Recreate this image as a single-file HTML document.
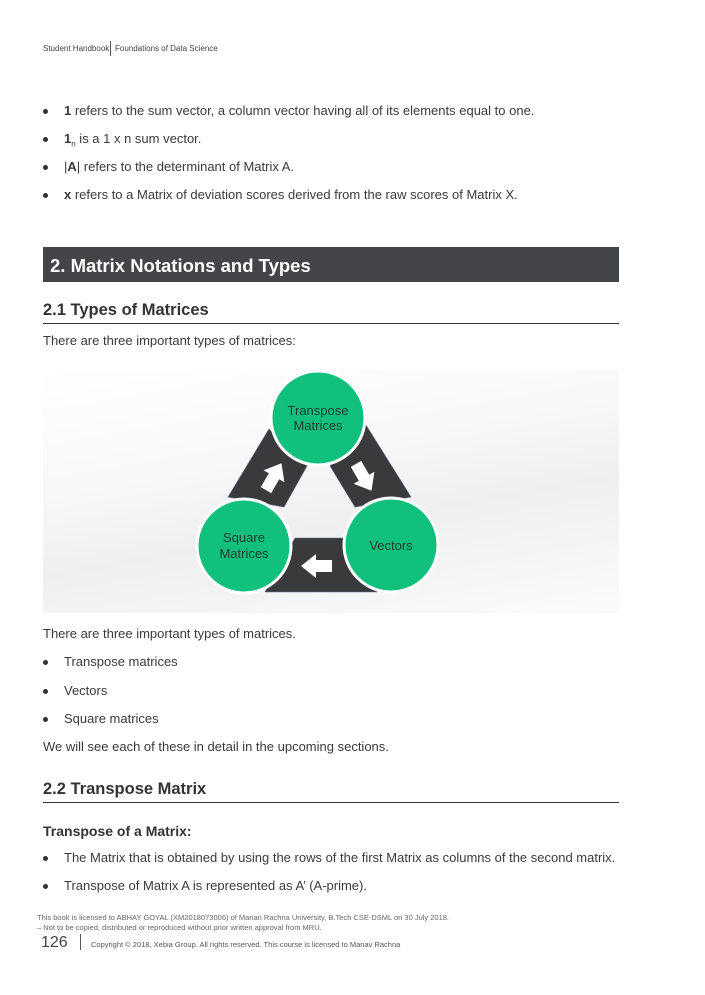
<!DOCTYPE html>
<html><head><meta charset="utf-8"><style>
body{margin:0;width:705px;height:995px;background:#fff;position:relative;font-family:"Liberation Sans",sans-serif;color:#333;overflow:hidden}
.a{position:absolute;white-space:nowrap}
.t{font-size:13px;color:#3a3a3a}
.b{position:absolute;left:43px;font-size:13px;color:#3a3a3a}
.b:before{content:"";position:absolute;left:0;top:6px;width:5px;height:5px;border-radius:50%;background:#333}
.b span{margin-left:21px}
h2{position:absolute;margin:0;font-size:16.5px;font-weight:bold;color:#333;left:43px}
.hr{position:absolute;left:43px;width:576px;height:1px;background:#333}
</style></head><body>
<div class="a" style="left:43px;top:44px;font-size:8px;color:#444">Student Handbook</div>
<div class="a" style="left:110px;top:41px;width:1px;height:15px;background:#555"></div>
<div class="a" style="left:115px;top:44px;font-size:8px;color:#444">Foundations of Data Science</div>

<div class="b" style="top:103px"><span><b>1</b> refers to the sum vector, a column vector having all of its elements equal to one.</span></div>
<div class="b" style="top:131px"><span><b>1</b><sub style="font-size:8px">n</sub> is a 1 x n sum vector.</span></div>
<div class="b" style="top:159px"><span>|<b>A</b>| refers to the determinant of Matrix A.</span></div>
<div class="b" style="top:187px"><span><b>x</b> refers to a Matrix of deviation scores derived from the raw scores of Matrix X.</span></div>

<div class="a" style="left:43px;top:247px;width:576px;height:35px;background:#434549"></div>
<div class="a" style="left:50px;top:255px;font-size:18.5px;font-weight:bold;color:#fff">2. Matrix Notations and Types</div>

<h2 style="top:301px">2.1 Types of Matrices</h2>
<div class="hr" style="top:323px"></div>
<div class="a t" style="left:43px;top:333px">There are three important types of matrices:</div>

<div class="a" style="left:43px;top:370px;width:576px;height:243px;background:linear-gradient(170deg,#fff 0%,#f7f7f7 40%,#efefef 60%,#fbfbfb 100%)"></div>
<svg class="a" style="left:0;top:0" width="705" height="995">
<polygon points="269,429 228,497 284,507 307,466" fill="#3a3a3c" stroke="#5a6a8a" stroke-width="0.6"/>
<polygon points="366,425 411,497 355,507 330,466" fill="#3a3a3c" stroke="#5a6a8a" stroke-width="0.6"/>
<polygon points="295,538 347,538 377,592 265,592" fill="#3a3a3c" stroke="#5a6a8a" stroke-width="0.6"/>
<g fill="#fff">
<polygon transform="translate(273,478) rotate(30)" points="0,-17 -12,-2 -6,-2 -6,14 6,14 6,-2 12,-2"/>
<polygon transform="translate(363,476) rotate(150)" points="0,-17 -12,-2 -6,-2 -6,14 6,14 6,-2 12,-2"/>
<polygon transform="translate(318,566) rotate(-90)" points="0,-17 -12,-2 -6,-2 -6,14 6,14 6,-2 12,-2"/>
</g>
<circle cx="318" cy="418" r="47" fill="#10c07c" stroke="#fff" stroke-width="3"/>
<circle cx="244" cy="546" r="47" fill="#10c07c" stroke="#fff" stroke-width="3"/>
<circle cx="391" cy="545" r="47" fill="#10c07c" stroke="#fff" stroke-width="3"/>
<g font-family="Liberation Sans,sans-serif" font-size="13" fill="#1f3b33" text-anchor="middle">
<text x="318" y="415">Transpose</text><text x="318" y="430">Matrices</text>
<text x="244" y="542">Square</text><text x="244" y="558">Matrices</text>
<text x="391" y="550">Vectors</text></g>
</svg>

<div class="a t" style="left:43px;top:626px">There are three important types of matrices.</div>
<div class="b" style="top:654px"><span>Transpose matrices</span></div>
<div class="b" style="top:683px"><span>Vectors</span></div>
<div class="b" style="top:711px"><span>Square matrices</span></div>
<div class="a t" style="left:43px;top:739px">We will see each of these in detail in the upcoming sections.</div>

<h2 style="top:780px">2.2 Transpose Matrix</h2>
<div class="hr" style="top:802px"></div>
<div class="a" style="left:43px;top:823px;font-size:14px;font-weight:bold;color:#333">Transpose of a Matrix:</div>
<div class="b" style="top:850px"><span>The Matrix that is obtained by using the rows of the first Matrix as columns of the second matrix.</span></div>
<div class="b" style="top:878px"><span>Transpose of Matrix A is represented as A’ (A-prime).</span></div>

<div class="a" style="left:37px;top:913px;font-size:7.5px;color:#666">This book is licensed to ABHAY GOYAL (XM2018073006) of Manan Rachna University, B.Tech CSE-DSML on 30 July 2018.</div>
<div class="a" style="left:37px;top:923px;font-size:7.5px;color:#666">– Not to be copied, distributed or reproduced without prior written approval from MRU.</div>
<div class="a" style="left:41px;top:934px;font-size:16px;color:#444">126</div>
<div class="a" style="left:80px;top:934px;width:1px;height:16px;background:#555"></div>
<div class="a" style="left:91px;top:940px;font-size:7.5px;color:#555">Copyright © 2018, Xebia Group. All rights reserved. This course is licensed to Manav Rachna</div>
</body></html>
